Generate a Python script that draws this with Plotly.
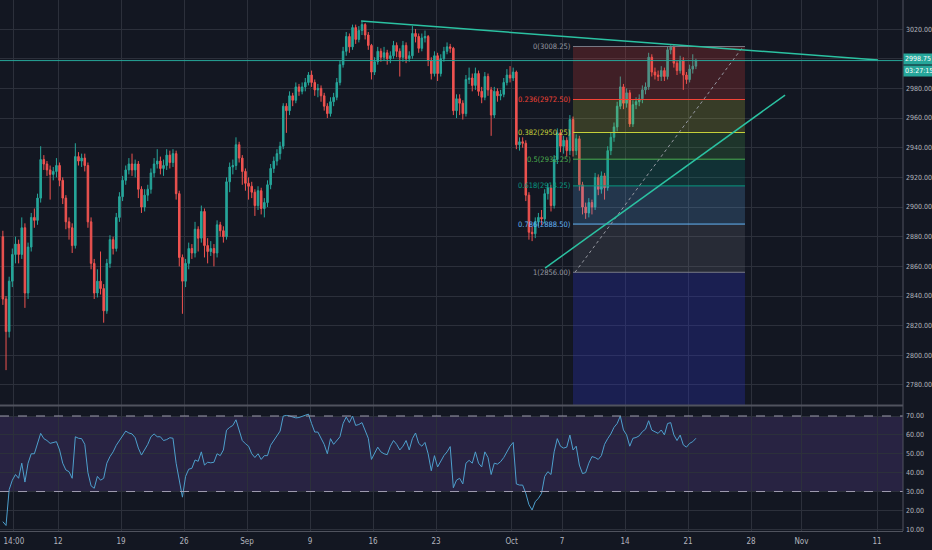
import plotly.graph_objects as go

# ES futures, 4 bars per session, weekends squeezed out (x = trading day, 0 = Mon Aug 12)
first_open = 2880
close = [
    2838, 2816, 2850, 2868, 2875, 2868, 2886, 2842, 2873, 2893,
    2891, 2906, 2932, 2929, 2925, 2922, 2924, 2928, 2918, 2906,
    2890, 2886, 2874, 2934, 2931, 2933, 2928, 2890, 2862, 2842,
    2850, 2845, 2830, 2862, 2878, 2872, 2893, 2907, 2918, 2925,
    2929, 2925, 2929, 2912, 2900, 2908, 2912, 2923, 2929, 2931,
    2926, 2928, 2935, 2930, 2936, 2909, 2866, 2850, 2862, 2872,
    2869, 2885, 2879, 2897, 2874, 2870, 2872, 2869, 2888, 2884,
    2880, 2917, 2927, 2928, 2942, 2933, 2924, 2916, 2914, 2910,
    2901, 2911, 2899, 2903, 2915, 2926, 2931, 2936, 2941, 2968,
    2965, 2975, 2972, 2981, 2978, 2981, 2984, 2989, 2984, 2979,
    2980, 2975, 2968, 2963, 2971, 2974, 2984, 2996, 3005, 3015,
    3008, 3021, 3013, 3019, 3023, 3016, 3009, 2991, 2998, 3005,
    3001, 3004, 3000, 3002, 3009, 3005, 3001, 3009, 3000, 3002,
    3017, 3015, 3007, 3014, 3015, 2999, 2990, 3002, 2990, 3000,
    3005, 3008, 3007, 2965, 2973, 2970, 2963, 2986, 2987, 2982,
    2990, 2978, 2974, 2988, 2979, 2962, 2978, 2975, 2976, 2984,
    2989, 2987, 2991, 2942, 2944, 2943, 2908, 2883, 2882, 2890,
    2893, 2892, 2909, 2913, 2901, 2932, 2950, 2941, 2945, 2938,
    2959, 2938, 2946, 2915, 2900, 2896, 2903, 2900, 2920, 2912,
    2921, 2913, 2938, 2947, 2954, 2968, 2981, 2970, 2977, 2956,
    2969, 2971, 2973, 2979, 2981, 3001, 2991, 2989, 2988, 2992,
    2988, 3006, 3008, 2997, 2992, 2999, 2989, 2986, 2993, 2995, 2998.75,
]
high = [
    2884, 2840, 2853, 2872, 2880, 2878, 2893, 2889, 2876, 2896,
    2899, 2909, 2941, 2935, 2931, 2928, 2927, 2933, 2930, 2920,
    2908, 2893, 2889, 2943, 2937, 2936, 2936, 2930, 2893, 2865,
    2858, 2870, 2848, 2865, 2881, 2880, 2896, 2910, 2921, 2928,
    2933, 2936, 2932, 2931, 2914, 2912, 2915, 2926, 2933, 2939,
    2934, 2932, 2939, 2938, 2939, 2938, 2911, 2868, 2865, 2876,
    2875, 2890, 2887, 2901, 2899, 2879, 2877, 2875, 2891, 2890,
    2887, 2920, 2930, 2932, 2947, 2944, 2935, 2926, 2920, 2917,
    2912, 2914, 2913, 2906, 2918, 2929, 2934, 2939, 2944, 2970,
    2970, 2978, 2977, 2984, 2983, 2984, 2987, 2991, 2992, 2986,
    2983, 2982, 2977, 2970, 2974, 2977, 2987, 2999, 3008, 3018,
    3017, 3023, 3023, 3022, 3025, 3024, 3018, 3010, 3001, 3008,
    3007, 3008, 3006, 3005, 3012, 3011, 3007, 3012, 3011, 3005,
    3022, 3020, 3017, 3017, 3019, 3016, 3001, 3005, 3004, 3003,
    3008, 3011, 3010, 3008, 2976, 2976, 2972, 2989, 2994, 2990,
    2994, 2992, 2981, 2991, 2990, 2981, 2981, 2980, 2979, 2987,
    2993, 2995, 2994, 2992, 2947, 2947, 2945, 2910, 2887, 2893,
    2896, 2898, 2912, 2916, 2915, 2935, 2953, 2952, 2948, 2947,
    2962, 2961, 2949, 2948, 2917, 2903, 2906, 2905, 2923, 2922,
    2924, 2923, 2941, 2950, 2957, 2971, 2988, 2983, 2980, 2979,
    2972, 2974, 2976, 2982, 2984, 3004, 3003, 2994, 2992, 2995,
    2994, 3008, 3009, 3009, 2999, 3002, 3001, 2991, 2996, 3003, 3000,
]
low = [
    2834, 2790, 2812, 2846, 2862, 2862, 2865, 2832, 2838, 2870,
    2886, 2888, 2903, 2925, 2921, 2905, 2918, 2920, 2914, 2902,
    2885, 2878, 2869, 2872, 2928, 2927, 2924, 2886, 2858, 2838,
    2839, 2841, 2822, 2828, 2859, 2868, 2870, 2890, 2904, 2915,
    2922, 2921, 2920, 2906, 2896, 2897, 2904, 2909, 2920, 2926,
    2922, 2921, 2925, 2926, 2927, 2905, 2860, 2828, 2846, 2858,
    2865, 2866, 2870, 2876, 2866, 2862, 2867, 2860, 2866, 2880,
    2876, 2878, 2910, 2922, 2925, 2930, 2915, 2911, 2905, 2906,
    2894, 2898, 2895, 2893, 2900, 2912, 2923, 2928, 2932, 2939,
    2950, 2962, 2968, 2970, 2975, 2976, 2978, 2982, 2981, 2975,
    2974, 2971, 2965, 2960, 2961, 2968, 2972, 2982, 2994, 3002,
    3004, 3006, 3010, 3011, 3016, 3013, 3006, 2986, 2989, 2996,
    2998, 2999, 2996, 2997, 3000, 3001, 2988, 2998, 2997, 2998,
    3000, 3011, 3004, 3005, 3011, 2995, 2986, 2988, 2985, 2988,
    2998, 3003, 3004, 2962, 2960, 2962, 2959, 2961, 2983, 2978,
    2979, 2975, 2970, 2972, 2975, 2948, 2960, 2971, 2972, 2974,
    2982, 2984, 2985, 2939, 2938, 2940, 2904, 2878, 2877, 2879,
    2887, 2888, 2889, 2905, 2897, 2899, 2929, 2937, 2936, 2934,
    2935, 2934, 2935, 2911, 2895, 2892, 2893, 2895, 2898, 2908,
    2909, 2905, 2911, 2935, 2944, 2951, 2966, 2966, 2967, 2954,
    2954, 2966, 2968, 2970, 2976, 2979, 2988, 2986, 2985, 2985,
    2985, 2986, 3003, 2994, 2989, 2990, 2979, 2983, 2984, 2990, 2993,
]
rsi = [
    14, 12, 31, 36, 39, 37, 45, 35, 45, 50,
    50, 55, 60.8, 58, 57, 55.5, 56, 56.4, 52, 45,
    41.4, 40.5, 37, 59, 58.2, 58, 55, 40, 33, 31.7,
    38, 36, 37, 45, 48.5, 51, 54.5, 57, 59, 62,
    61, 60.5, 58.5, 53, 49.3, 52, 55, 59, 60.5, 59,
    59, 57, 57.5, 58.5, 58.2, 45, 35, 27, 38, 41.8,
    42.3, 46.7, 46, 51, 44, 45.5, 45.2, 45.5, 50, 49,
    52, 62.5, 64, 65, 68, 62, 57, 55.3, 54, 50,
    48, 50, 47, 49, 49, 54.5, 57, 59.5, 62, 70,
    70.3, 70, 69.3, 69, 69.2, 69.7, 70.2, 71, 66, 61.5,
    61.5, 58, 55, 50, 58, 55, 57.3, 59, 66, 69.5,
    66.5, 70, 65, 65.5, 66.5, 62.6, 58.2, 47, 50, 53.5,
    51, 50, 49.5, 54, 57, 55, 52, 54, 57, 52,
    58, 61, 55.5, 54, 56, 50, 41, 49, 43, 46,
    49, 51, 53.8, 32, 36, 37, 34, 45, 46.5, 45,
    51, 45, 43, 51, 48, 39, 45, 44.5, 45.8, 48,
    51, 54, 56, 34, 33.4, 33.4, 29, 23, 20.2, 24.6,
    26.4, 29, 38, 40.5, 39, 51, 58, 54, 53, 53.5,
    59.9, 52, 54, 44, 39.5, 40, 45, 48.5, 48, 47,
    49, 55, 58, 60.5, 64, 66, 70, 62.6, 60, 54,
    58.2, 58.6, 59.5, 61.7, 63, 67.5, 62.5, 61.5, 60.8, 62.6,
    60, 66, 66.5, 60, 57, 59.9, 54.7, 53.5, 55.5, 56.4, 58.2,
]

tick_day = [-3.5, 0, 5, 10, 15, 20, 25, 30, 36, 40, 45, 50, 55, 59, 65]
tick_text = ["14:00", "12", "19", "26", "Sep", "9", "16", "23", "Oct", "7", "14", "21", "28", "Nov", "11"]

# 3000 sits under the last-price tag, so no label there
price_ticks = [2780, 2800, 2820, 2840, 2860, 2880, 2900, 2920, 2940, 2960, 2980, 3000, 3020]
price_tick_text = ["2780.00", "2800.00", "2820.00", "2840.00", "2860.00", "2880.00", "2900.00",
                   "2920.00", "2940.00", "2960.00", "2980.00", "", "3020.00"]
rsi_ticks = [10, 20, 30, 40, 50, 60, 70]

fib_ratio = ["0", "0.236", "0.382", "0.5", "0.618", "0.786", "1", "1.618"]
fib_price = [3008.25, 2972.50, 2950.25, 2932.25, 2914.25, 2888.50, 2856.00, 2761.75]
fib_color = ["#787b86", "#f44336", "#c6d13a", "#4caf50", "#089981", "#64b5f6", "#787b86", "#3037d8"]
fib_days = [40.87, 54.52]

# hand drawn trend lines: (day, price) end points
resist_line = [(24.05, 3025.4), (65.08, 2999.1)]
support_line = [(38.65, 2858.8), (57.7, 2975.5)]
fib_diag = [(41.03, 2856.0), (54.37, 3008.25)]

last_price = 2998.75
countdown = "03:27:15"

BG = "#131722"
GRID = "#2c303b"
TXT = "#b2b5be"
TEAL = "#2bc2a2"
FONT = "DejaVu Sans Condensed, Roboto, sans-serif"
AXIS_FONT = "Liberation Sans Narrow, DejaVu Sans Condensed, sans-serif"

bar_x = [-4.375 + 0.25 * i for i in range(len(close))]
opens = [first_open] + close[:-1]
high = [max(h, o, c) for h, o, c in zip(high, opens, close)]
low = [min(l, o, c) for l, o, c in zip(low, opens, close)]

price_range = [2766.5, 3039.6]
rsi_range = [9.07, 75.3]
x_range = [-4.603, 67.06]

fig = go.Figure()
fig.add_trace(go.Candlestick(
    x=bar_x, open=opens, high=high, low=low, close=close,
    xaxis="x", yaxis="y",
    increasing=dict(line=dict(color="#26a69a", width=1), fillcolor="#26a69a"),
    decreasing=dict(line=dict(color="#ef5350", width=1), fillcolor="#ef5350"),
    whiskerwidth=0, showlegend=False,
))
fig.add_trace(go.Scatter(
    x=bar_x, y=rsi, mode="lines", xaxis="x2", yaxis="y2",
    line=dict(color="#4d9fcc", width=1), showlegend=False,
))

shapes = []
# fib zones, drawn over the candles like TradingView does
for k in range(len(fib_price) - 1):
    shapes.append(dict(
        type="rect", xref="x", yref="y", layer="above",
        x0=fib_days[0], x1=fib_days[1],
        y0=max(fib_price[k + 1], price_range[0]), y1=fib_price[k],
        fillcolor=fib_color[k + 1], opacity=0.2 if k < 6 else 0.26, line=dict(width=0),
    ))
for k in range(len(fib_price) - 1):
    shapes.append(dict(
        type="line", xref="x", yref="y", layer="above",
        x0=fib_days[0], x1=fib_days[1], y0=fib_price[k], y1=fib_price[k],
        line=dict(color=fib_color[k], width=1),
    ))
shapes.append(dict(
    type="line", xref="x", yref="y", layer="above",
    x0=fib_diag[0][0], y0=fib_diag[0][1], x1=fib_diag[1][0], y1=fib_diag[1][1],
    line=dict(color="#9598a1", width=1, dash="dot"),
))
for seg in (resist_line, support_line):
    shapes.append(dict(
        type="line", xref="x", yref="y", layer="above",
        x0=seg[0][0], y0=seg[0][1], x1=seg[1][0], y1=seg[1][1],
        line=dict(color=TEAL, width=1.5),
    ))
# last price line
shapes.append(dict(
    type="line", xref="paper", yref="y", layer="above",
    x0=0, x1=1, y0=last_price, y1=last_price,
    line=dict(color="#26a69a", width=1),
))
# RSI band and its bounds
shapes.append(dict(
    type="rect", xref="paper", yref="y2", layer="below",
    x0=0, x1=1, y0=30, y1=70, fillcolor="rgba(126,87,194,0.2)", line=dict(width=0),
))
for lvl in (30, 70):
    shapes.append(dict(
        type="line", xref="paper", yref="y2", layer="above",
        x0=0, x1=1, y0=lvl, y1=lvl, line=dict(color="#9d9aae", width=1, dash="dash"),
    ))
# pane separator and axis frame
shapes.append(dict(type="line", xref="paper", yref="paper", x0=0, x1=1, y0=0.2364, y1=0.2364,
                   line=dict(color="#50535e", width=2)))
shapes.append(dict(type="line", xref="paper", yref="paper", x0=1, x1=1, y0=0, y1=1,
                   line=dict(color="#50535e", width=1)))

annotations = []
for k in range(len(fib_price) - 1):
    annotations.append(dict(
        xref="x", yref="y", x=fib_days[0], y=fib_price[k],
        text="%s(%.2f)" % (fib_ratio[k], fib_price[k]),
        xanchor="right", yanchor="middle", showarrow=False,
        font=dict(family=FONT, size=7.5, color=fib_color[k] if k != 0 and k != 6 else "#9598a1"),
    ))
annotations.append(dict(
    xref="paper", yref="y", x=1.0, y=last_price, yshift=2, text="%.2f" % last_price,
    xanchor="left", yanchor="middle", showarrow=False, bgcolor="#26a69a",
    font=dict(family=AXIS_FONT, size=7, color="#ffffff"), borderpad=1,
))
annotations.append(dict(
    xref="paper", yref="y", x=1.0, y=last_price, yshift=-10, text=countdown,
    xanchor="left", yanchor="middle", showarrow=False, bgcolor="#26a69a",
    font=dict(family=AXIS_FONT, size=7, color="#ffffff"), borderpad=1,
))

axis_font = dict(family=AXIS_FONT, size=7, color=TXT)
fig.update_layout(
    width=932, height=550,
    margin=dict(l=0, r=29, t=0, b=19, autoexpand=False),
    paper_bgcolor=BG, plot_bgcolor=BG,
    showlegend=False,
    shapes=shapes, annotations=annotations,
    xaxis=dict(domain=[0, 1], anchor="y", range=x_range, tickvals=tick_day, showticklabels=False,
               showgrid=True, gridcolor=GRID, zeroline=False, rangeslider=dict(visible=False)),
    xaxis2=dict(domain=[0, 1], anchor="y2", matches="x", range=x_range, tickvals=tick_day, ticktext=tick_text,
                showgrid=True, gridcolor=GRID, zeroline=False, tickfont=dict(family=FONT, size=8, color=TXT),
                showline=True, linecolor="#50535e", ticks="", ticklabelstandoff=2),
    yaxis=dict(domain=[0.2373, 1], anchor="x", side="right", range=price_range,
               tickvals=price_ticks, ticktext=price_tick_text,
               showgrid=True, gridcolor=GRID, zeroline=False, tickfont=axis_font,
               ticks="", ticklabelstandoff=2),
    yaxis2=dict(domain=[0, 0.2354], anchor="x2", side="right", range=rsi_range,
                tickvals=rsi_ticks, ticktext=["%.2f" % v for v in rsi_ticks],
                showgrid=True, gridcolor=GRID, zeroline=False, tickfont=axis_font,
                ticks="", ticklabelstandoff=2),
)

# the page body keeps its default 8px margin otherwise
fig.write_html("out.html", config=dict(displayModeBar=False),
               post_script="document.body.style.margin='0';")
